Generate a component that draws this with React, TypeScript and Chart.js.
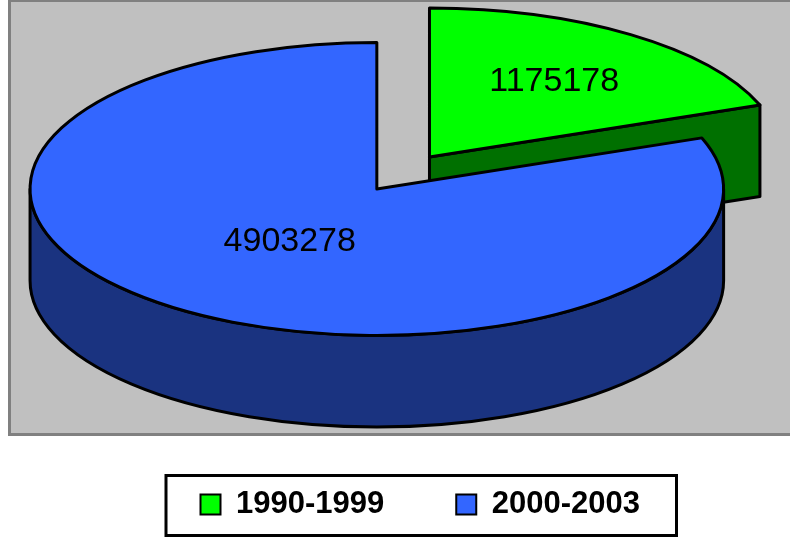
import React, { useEffect, useRef } from 'react';
import { Chart, registerables } from 'chart.js';

Chart.register(...registerables);

// ---- data ----
const categories = ['1990-1999', '2000-2003'];
const values = [1175178, 4903278];
const topColors = ['#00FF00', '#3366FF'];
const sideColors = ['#007000', '#1A3380'];
const explode = [0.266, 0]; // fraction of radius
const labelRadius = [0.62, 0.44]; // label distance along mid-angle (fraction of radius)

// ---- style ----
const TILT = 0.4224; // vertical/horizontal ratio of the top ellipse
const DEPTH = 0.264; // pie thickness relative to horizontal radius
const PIE_FILL = 1.05;
const BASE_R = 100;
const LINE_W = 3;
const FONT = "'Liberation Sans', Arial, Helvetica, sans-serif";
const FRAME = { left: 9.5, top: 0.5, right: 900, bottom: 434.5 };

function geometry(chart: any) {
  const meta = chart.getDatasetMeta(0);
  const arcs = meta.data as any[];
  if (!arcs || !arcs.length) return null;
  const area = chart.chartArea;
  const slices = arcs.map((arc: any, i: number) => {
    const R = arc.outerRadius;
    const off = (arc.options.offset || 0) / 4;
    const start = arc.startAngle;
    const end = arc.endAngle;
    const mid = (start + end) / 2;
    const fix = 1 - Math.sin(Math.min(Math.PI, end - start));
    return {
      i, start, end, mid,
      ox: (Math.cos(mid) * off) / R,
      oy: (Math.sin(mid) * off) / R,
      r: (R + off * fix) / R,
      R, ax: arc.x, ay: arc.y,
    };
  });
  let minX = Infinity, maxX = -Infinity, minY = Infinity, maxY = -Infinity;
  const add = (x: number, y: number) => {
    minX = Math.min(minX, x); maxX = Math.max(maxX, x);
    minY = Math.min(minY, y); maxY = Math.max(maxY, y);
  };
  for (const sl of slices) {
    add(sl.ox, sl.oy * TILT);
    add(sl.ox, sl.oy * TILT + DEPTH);
    const n = 240;
    for (let j = 0; j <= n; j++) {
      const a = sl.start + ((sl.end - sl.start) * j) / n;
      const x = sl.ox + sl.r * Math.cos(a);
      const y = (sl.oy + sl.r * Math.sin(a)) * TILT;
      add(x, y);
      add(x, y + DEPTH);
    }
  }
  const s = (area.height * PIE_FILL) / (maxY - minY);
  const cx = (area.left + area.right) / 2 - ((minX + maxX) / 2) * s;
  const cy = (area.top + area.bottom) / 2 - ((minY + maxY) / 2) * s;
  return { s, cx, cy, slices };
}

function screen(g: any, sl: any) {
  return {
    x: g.cx + sl.ox * g.s,
    y: g.cy + sl.oy * g.s * TILT,
    rx: sl.r * g.s,
    ry: sl.r * g.s * TILT,
  };
}

const pie3d = {
  id: 'pie3d',
  beforeDraw(chart: any) {
    const { ctx } = chart;
    ctx.save();
    ctx.fillStyle = '#C0C0C0';
    ctx.fillRect(FRAME.left, FRAME.top, FRAME.right - FRAME.left, FRAME.bottom - FRAME.top);
    ctx.strokeStyle = '#808080';
    ctx.lineWidth = 3;
    ctx.strokeRect(FRAME.left, FRAME.top, FRAME.right - FRAME.left, FRAME.bottom - FRAME.top);
    ctx.restore();
  },
  beforeDatasetsDraw(chart: any) {
    const { ctx } = chart;
    const g = geometry(chart);
    chart.$pie3d = g;
    if (!g) return;
    ctx.save();
    ctx.lineWidth = LINE_W;
    ctx.lineJoin = 'round';
    ctx.strokeStyle = '#000';
    const order = [...g.slices].sort((a, b) => Math.sin(a.mid) - Math.sin(b.mid));
    for (const sl of order) {
      const c = screen(g, sl);
      const d = DEPTH * g.s;
      ctx.fillStyle = sideColors[sl.i];
      const walls: [number, boolean][] = [
        [sl.start, Math.cos(sl.start) < -1e-6],
        [sl.end, Math.cos(sl.end) > 1e-6],
      ];
      for (const [a, vis] of walls) {
        if (!vis) continue;
        const px = c.x + c.rx * Math.cos(a);
        const py = c.y + c.ry * Math.sin(a);
        ctx.beginPath();
        ctx.moveTo(c.x, c.y);
        ctx.lineTo(px, py);
        ctx.lineTo(px, py + d);
        ctx.lineTo(c.x, c.y + d);
        ctx.closePath();
        ctx.fill();
        ctx.stroke();
      }
      for (let k = -1; k <= 2; k++) {
        const lo = Math.max(sl.start, 2 * Math.PI * k);
        const hi = Math.min(sl.end, 2 * Math.PI * k + Math.PI);
        if (hi <= lo) continue;
        ctx.beginPath();
        ctx.ellipse(c.x, c.y, c.rx, c.ry, 0, lo, hi, false);
        ctx.ellipse(c.x, c.y + d, c.rx, c.ry, 0, hi, lo, true);
        ctx.closePath();
        ctx.fill();
        ctx.stroke();
      }
    }
    ctx.restore();
    // tops are drawn by Chart.js through an elliptical transform
    const s0 = g.slices[0];
    const k = g.s / s0.R;
    ctx.save();
    ctx.transform(k, 0, 0, k * TILT, g.cx - k * s0.ax, g.cy - k * TILT * s0.ay);
  },
  afterDatasetsDraw(chart: any) {
    const { ctx } = chart;
    const g = chart.$pie3d;
    if (!g) return;
    ctx.restore();
    ctx.save();
    ctx.lineWidth = LINE_W;
    ctx.lineJoin = 'round';
    ctx.strokeStyle = '#000';
    for (const sl of g.slices) {
      const c = screen(g, sl);
      ctx.beginPath();
      ctx.moveTo(c.x, c.y);
      ctx.ellipse(c.x, c.y, c.rx, c.ry, 0, sl.start, sl.end, false);
      ctx.closePath();
      ctx.stroke();
    }
    ctx.fillStyle = '#000';
    ctx.font = `34px ${FONT}`;
    ctx.textAlign = 'center';
    ctx.textBaseline = 'middle';
    const data = chart.data.datasets[0].data;
    for (const sl of g.slices) {
      const c = screen(g, sl);
      const f = labelRadius[sl.i];
      const x = c.x + f * c.rx * Math.cos(sl.mid);
      const y = c.y + f * c.ry * Math.sin(sl.mid);
      ctx.fillText(String(data[sl.i]), x, y);
    }
    ctx.restore();
  },
  afterDraw(chart: any) {
    const { ctx } = chart;
    const lg = chart.legend;
    const hb = lg && lg.legendHitBoxes;
    if (!hb || !hb.length) return;
    const last = hb[hb.length - 1];
    const left = hb[0].left - 36;
    const right = last.left + last.width + 38;
    const top = hb[0].top - 15;
    const bottom = hb[0].top + 48;
    ctx.save();
    ctx.strokeStyle = '#000';
    ctx.lineWidth = 3;
    ctx.strokeRect(left + 1.5, top + 1.5, right - left - 3, bottom - top - 3);
    ctx.restore();
  },
};

export default function App() {
  const ref = useRef<HTMLCanvasElement | null>(null);
  useEffect(() => {
    if (!ref.current) return;
    const baseGen = (Chart as any).overrides.doughnut.plugins.legend.labels.generateLabels;
    const chart = new Chart(ref.current, {
      type: 'pie',
      data: {
        labels: categories,
        datasets: [
          {
            data: values,
            backgroundColor: topColors,
            borderWidth: 0,
            offset: explode.map((e) => e * 4 * BASE_R),
            clip: false,
          } as any,
        ],
      },
      options: {
        animation: false,
        responsive: false,
        devicePixelRatio: 1,
        events: [],
        radius: BASE_R,
        layout: { padding: { left: 78, right: 78, top: 18, bottom: 12 } },
        plugins: {
          tooltip: { enabled: false },
          title: { display: false },
          legend: {
            display: true,
            position: 'bottom',
            align: 'end',
            labels: {
              color: '#000',
              font: { family: FONT, size: 31, weight: 'bold' },
              boxWidth: 20,
              boxHeight: 20,
              padding: 72,
              generateLabels: (c: any) =>
                baseGen(c).map((it: any) => ({ ...it, lineWidth: 2, strokeStyle: '#000' })),
            },
          },
        },
      } as any,
      plugins: [pie3d as any],
    });
    return () => chart.destroy();
  }, []);
  return (
    <div
      style={{
        position: 'fixed',
        left: 0,
        top: 0,
        width: 790,
        height: 542,
        overflow: 'hidden',
        background: '#fff',
      }}
    >
      <canvas ref={ref} width={790} height={542} style={{ display: 'block' }} />
    </div>
  );
}
